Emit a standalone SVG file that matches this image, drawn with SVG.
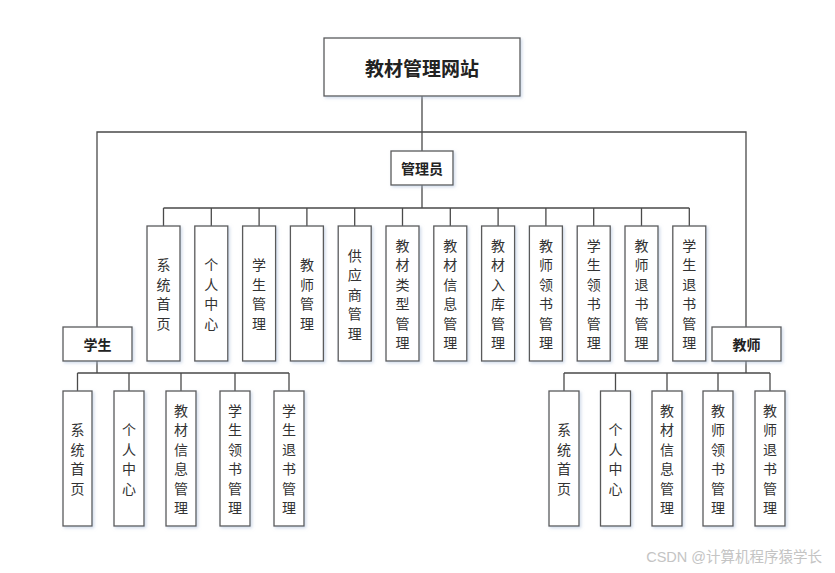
<svg xmlns="http://www.w3.org/2000/svg" width="835" height="573" viewBox="0 0 835 573">
<defs>
<filter id="sh" x="-20%" y="-20%" width="140%" height="140%">
<feDropShadow dx="1.5" dy="1.5" stdDeviation="1.5" flood-color="#a9bcd8" flood-opacity="0.55"/>
</filter>
<style>
.box{fill:#fff;stroke:#5a5a5a;stroke-width:1.3;filter:url(#sh)}
.t{font-family:"Noto Sans CJK SC","Noto Sans CJK JP",sans-serif;font-size:14px;fill:#333;text-anchor:middle;dominant-baseline:central}
.b{font-weight:bold;fill:#222}
.ln{fill:none;stroke:#4a4a4a;stroke-width:1.3}
</style>
</defs>
<rect width="835" height="573" fill="#fff"/>
<g id="connectors" class="ln">
<path d="M422 96V151M97 327V132H746V327M422 185V208M163.5 208H689.3"/>
<path d="M163.5 208V226M211.3 208V226M259.1 208V226M306.9 208V226M354.7 208V226M402.5 208V226M450.3 208V226M498.1 208V226M545.9 208V226M593.7 208V226M641.5 208V226M689.3 208V226"/>
<path d="M97 361V373M77.5 373H289M77.5 373V391M129 373V391M181 373V391M235 373V391M289 373V391"/>
<path d="M746 361V373M564 373H770M564 373V391M615.5 373V391M667 373V391M718 373V391M770 373V391"/>
</g>
<g id="root"><rect class="box" x="324" y="38" width="196" height="58"/><text class="t b" x="422" y="67" style="font-size:19px">教材管理网站</text></g>
<g id="admin"><rect class="box" x="391" y="151" width="62" height="34"/><text class="t b" x="422" y="168" style="font-weight:600">管理员</text></g>
<g id="student"><rect class="box" x="63" y="327" width="69" height="34"/><text class="t b" x="97.5" y="344">学生</text></g>
<g id="teacher"><rect class="box" x="712" y="327" width="69" height="34"/><text class="t b" x="746.5" y="344">教师</text></g>

<g id="a1"><rect class="box" x="147" y="226" width="33" height="135"/><text class="t" x="163.5" y="264.25"><tspan x="163.5">系</tspan><tspan x="163.5" dy="19.5">统</tspan><tspan x="163.5" dy="19.5">首</tspan><tspan x="163.5" dy="19.5">页</tspan></text></g>
<g id="a2"><rect class="box" x="194.8" y="226" width="33" height="135"/><text class="t" x="211.3" y="264.25"><tspan x="211.3">个</tspan><tspan x="211.3" dy="19.5">人</tspan><tspan x="211.3" dy="19.5">中</tspan><tspan x="211.3" dy="19.5">心</tspan></text></g>
<g id="a3"><rect class="box" x="242.6" y="226" width="33" height="135"/><text class="t" x="259.1" y="264.25"><tspan x="259.1">学</tspan><tspan x="259.1" dy="19.5">生</tspan><tspan x="259.1" dy="19.5">管</tspan><tspan x="259.1" dy="19.5">理</tspan></text></g>
<g id="a4"><rect class="box" x="290.4" y="226" width="33" height="135"/><text class="t" x="306.9" y="264.25"><tspan x="306.9">教</tspan><tspan x="306.9" dy="19.5">师</tspan><tspan x="306.9" dy="19.5">管</tspan><tspan x="306.9" dy="19.5">理</tspan></text></g>
<g id="a5"><rect class="box" x="338.2" y="226" width="33" height="135"/><text class="t" x="354.7" y="254.5"><tspan x="354.7">供</tspan><tspan x="354.7" dy="19.5">应</tspan><tspan x="354.7" dy="19.5">商</tspan><tspan x="354.7" dy="19.5">管</tspan><tspan x="354.7" dy="19.5">理</tspan></text></g>
<g id="a6"><rect class="box" x="386" y="226" width="33" height="135"/><text class="t" x="402.5" y="244.75"><tspan x="402.5">教</tspan><tspan x="402.5" dy="19.5">材</tspan><tspan x="402.5" dy="19.5">类</tspan><tspan x="402.5" dy="19.5">型</tspan><tspan x="402.5" dy="19.5">管</tspan><tspan x="402.5" dy="19.5">理</tspan></text></g>
<g id="a7"><rect class="box" x="433.8" y="226" width="33" height="135"/><text class="t" x="450.3" y="244.75"><tspan x="450.3">教</tspan><tspan x="450.3" dy="19.5">材</tspan><tspan x="450.3" dy="19.5">信</tspan><tspan x="450.3" dy="19.5">息</tspan><tspan x="450.3" dy="19.5">管</tspan><tspan x="450.3" dy="19.5">理</tspan></text></g>
<g id="a8"><rect class="box" x="481.6" y="226" width="33" height="135"/><text class="t" x="498.1" y="244.75"><tspan x="498.1">教</tspan><tspan x="498.1" dy="19.5">材</tspan><tspan x="498.1" dy="19.5">入</tspan><tspan x="498.1" dy="19.5">库</tspan><tspan x="498.1" dy="19.5">管</tspan><tspan x="498.1" dy="19.5">理</tspan></text></g>
<g id="a9"><rect class="box" x="529.4" y="226" width="33" height="135"/><text class="t" x="545.9" y="244.75"><tspan x="545.9">教</tspan><tspan x="545.9" dy="19.5">师</tspan><tspan x="545.9" dy="19.5">领</tspan><tspan x="545.9" dy="19.5">书</tspan><tspan x="545.9" dy="19.5">管</tspan><tspan x="545.9" dy="19.5">理</tspan></text></g>
<g id="a10"><rect class="box" x="577.2" y="226" width="33" height="135"/><text class="t" x="593.7" y="244.75"><tspan x="593.7">学</tspan><tspan x="593.7" dy="19.5">生</tspan><tspan x="593.7" dy="19.5">领</tspan><tspan x="593.7" dy="19.5">书</tspan><tspan x="593.7" dy="19.5">管</tspan><tspan x="593.7" dy="19.5">理</tspan></text></g>
<g id="a11"><rect class="box" x="625" y="226" width="33" height="135"/><text class="t" x="641.5" y="244.75"><tspan x="641.5">教</tspan><tspan x="641.5" dy="19.5">师</tspan><tspan x="641.5" dy="19.5">退</tspan><tspan x="641.5" dy="19.5">书</tspan><tspan x="641.5" dy="19.5">管</tspan><tspan x="641.5" dy="19.5">理</tspan></text></g>
<g id="a12"><rect class="box" x="672.8" y="226" width="33" height="135"/><text class="t" x="689.3" y="244.75"><tspan x="689.3">学</tspan><tspan x="689.3" dy="19.5">生</tspan><tspan x="689.3" dy="19.5">退</tspan><tspan x="689.3" dy="19.5">书</tspan><tspan x="689.3" dy="19.5">管</tspan><tspan x="689.3" dy="19.5">理</tspan></text></g>

<g id="s1"><rect class="box" x="63" y="391" width="29" height="135"/><text class="t" x="77.5" y="429.25"><tspan x="77.5">系</tspan><tspan x="77.5" dy="19.5">统</tspan><tspan x="77.5" dy="19.5">首</tspan><tspan x="77.5" dy="19.5">页</tspan></text></g>
<g id="s2"><rect class="box" x="114" y="391" width="30" height="135"/><text class="t" x="129" y="429.25"><tspan x="129">个</tspan><tspan x="129" dy="19.5">人</tspan><tspan x="129" dy="19.5">中</tspan><tspan x="129" dy="19.5">心</tspan></text></g>
<g id="s3"><rect class="box" x="166" y="391" width="30" height="135"/><text class="t" x="181" y="409.75"><tspan x="181">教</tspan><tspan x="181" dy="19.5">材</tspan><tspan x="181" dy="19.5">信</tspan><tspan x="181" dy="19.5">息</tspan><tspan x="181" dy="19.5">管</tspan><tspan x="181" dy="19.5">理</tspan></text></g>
<g id="s4"><rect class="box" x="220" y="391" width="30" height="135"/><text class="t" x="235" y="409.75"><tspan x="235">学</tspan><tspan x="235" dy="19.5">生</tspan><tspan x="235" dy="19.5">领</tspan><tspan x="235" dy="19.5">书</tspan><tspan x="235" dy="19.5">管</tspan><tspan x="235" dy="19.5">理</tspan></text></g>
<g id="s5"><rect class="box" x="274" y="391" width="30" height="135"/><text class="t" x="289" y="409.75"><tspan x="289">学</tspan><tspan x="289" dy="19.5">生</tspan><tspan x="289" dy="19.5">退</tspan><tspan x="289" dy="19.5">书</tspan><tspan x="289" dy="19.5">管</tspan><tspan x="289" dy="19.5">理</tspan></text></g>

<g id="t1"><rect class="box" x="549" y="391" width="30" height="135"/><text class="t" x="564" y="429.25"><tspan x="564">系</tspan><tspan x="564" dy="19.5">统</tspan><tspan x="564" dy="19.5">首</tspan><tspan x="564" dy="19.5">页</tspan></text></g>
<g id="t2"><rect class="box" x="600.5" y="391" width="30" height="135"/><text class="t" x="615.5" y="429.25"><tspan x="615.5">个</tspan><tspan x="615.5" dy="19.5">人</tspan><tspan x="615.5" dy="19.5">中</tspan><tspan x="615.5" dy="19.5">心</tspan></text></g>
<g id="t3"><rect class="box" x="652" y="391" width="30" height="135"/><text class="t" x="667" y="409.75"><tspan x="667">教</tspan><tspan x="667" dy="19.5">材</tspan><tspan x="667" dy="19.5">信</tspan><tspan x="667" dy="19.5">息</tspan><tspan x="667" dy="19.5">管</tspan><tspan x="667" dy="19.5">理</tspan></text></g>
<g id="t4"><rect class="box" x="703" y="391" width="30" height="135"/><text class="t" x="718" y="409.75"><tspan x="718">教</tspan><tspan x="718" dy="19.5">师</tspan><tspan x="718" dy="19.5">领</tspan><tspan x="718" dy="19.5">书</tspan><tspan x="718" dy="19.5">管</tspan><tspan x="718" dy="19.5">理</tspan></text></g>
<g id="t5"><rect class="box" x="755" y="391" width="30" height="135"/><text class="t" x="770" y="409.75"><tspan x="770">教</tspan><tspan x="770" dy="19.5">师</tspan><tspan x="770" dy="19.5">退</tspan><tspan x="770" dy="19.5">书</tspan><tspan x="770" dy="19.5">管</tspan><tspan x="770" dy="19.5">理</tspan></text></g>

<text x="822" y="557" font-family="'Liberation Sans','Noto Sans CJK SC',sans-serif" font-size="14.5" fill="#c4c4c4" text-anchor="end" dominant-baseline="central">CSDN @计算机程序猿学长</text>
</svg>
